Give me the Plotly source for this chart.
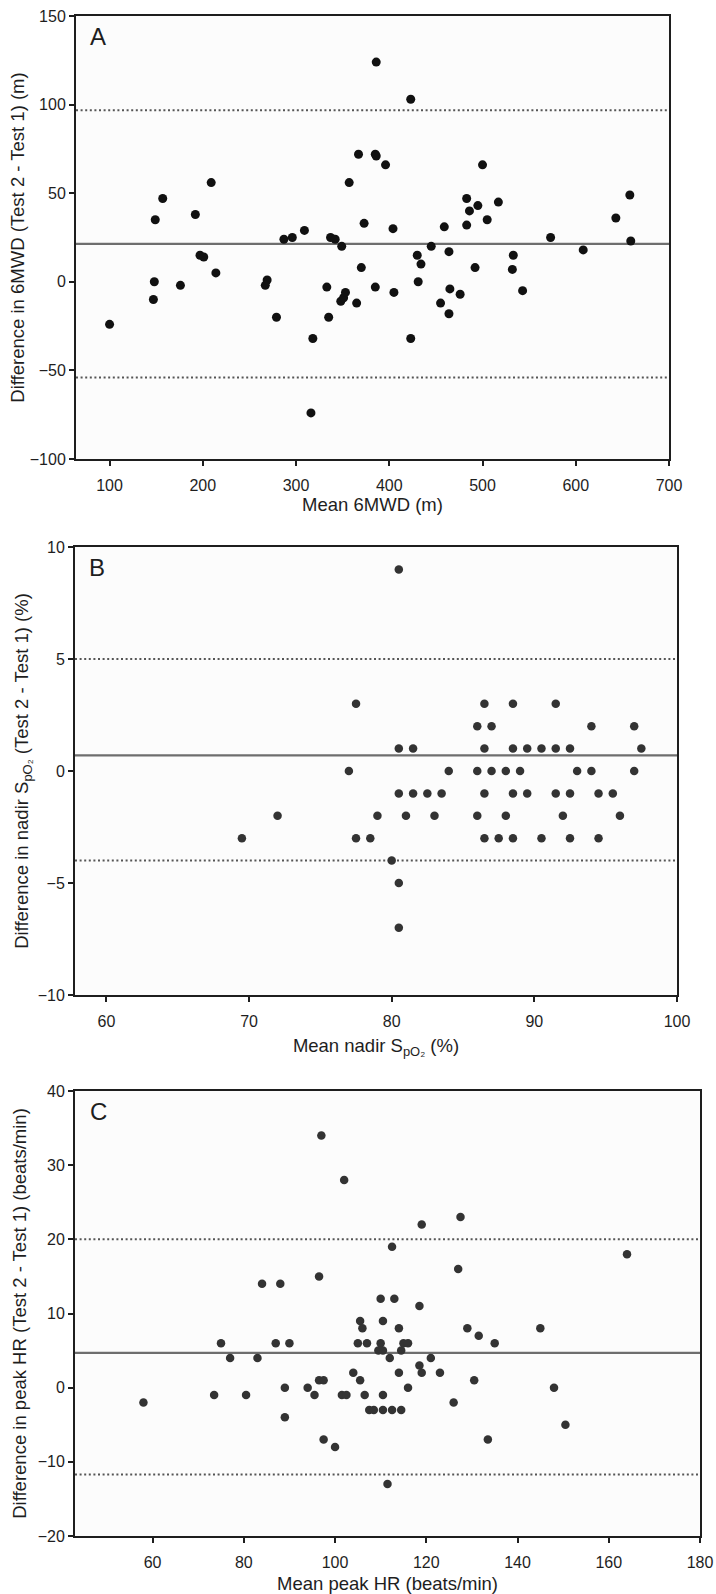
import plotly.graph_objects as go

# ---------------- Panel A: 6MWD ----------------
a_mean = [100, 149, 157, 148, 147, 176, 192, 197, 201, 209, 214, 269, 267, 279, 287, 296, 309, 318, 316,
          333, 335, 337, 342, 349, 348, 351, 353, 357, 365, 367, 373, 370, 385, 386, 386, 385, 396, 423,
          404, 405, 423, 430, 434, 431, 445, 459, 464, 465, 455, 464, 476, 483, 486, 495, 483, 505, 500,
          517, 492, 533, 532, 543, 573, 608, 643, 658, 659]
a_diff = [-24, 35, 47, 0, -10, -2, 38, 15, 14, 56, 5, 1, -2, -20, 24, 25, 29, -32, -74,
          -3, -20, 25, 24, 20, -11, -9, -6, 56, -12, 72, 33, 8, 72, 71, 124, -3, 66, 103,
          30, -6, -32, 15, 10, 0, 20, 31, 17, -4, -12, -18, -7, 47, 40, 43, 32, 35, 66,
          45, 8, 15, 7, -5, 25, 18, 36, 49, 23]
a_bias = 21.4
a_loa = [96.8, -54.0]

# ---------------- Panel B: nadir SpO2 ----------------
b_mean = [69.5, 72, 77, 77.5, 77.5, 78.5, 79, 80, 80.5, 80.5, 81.5, 80.5, 81.5, 82.5, 83.5, 81, 83, 84,
          80.5, 80.5,
          86.5, 88.5, 91.5, 86, 87, 94, 97,
          86.5, 88.5, 89.5, 90.5, 91.5, 92.5, 97.5,
          86, 87, 88, 89, 93, 94, 97,
          86.5, 88.5, 89.5, 91.5, 92.5, 94.5, 95.5,
          86, 88, 92, 96,
          86.5, 87.5, 88.5, 90.5, 92.5, 94.5]
b_diff = [-3, -2, 0, 3, -3, -3, -2, -4, 9, 1, 1, -1, -1, -1, -1, -2, -2, 0,
          -5, -7,
          3, 3, 3, 2, 2, 2, 2,
          1, 1, 1, 1, 1, 1, 1,
          0, 0, 0, 0, 0, 0, 0,
          -1, -1, -1, -1, -1, -1, -1,
          -2, -2, -2, -2,
          -3, -3, -3, -3, -3, -3]
b_bias = 0.7
b_loa = [5.0, -4.0]

# ---------------- Panel C: peak HR ----------------
c_mean = [58, 75, 77, 73.5, 80.5, 83, 84, 88, 87, 90, 89, 89, 94, 95.5, 96.5, 97, 96.5, 97.5, 97.5,
          100, 102, 101.5, 102.5, 104, 105.5, 105.5, 106, 105, 107, 106.5, 107.5, 108.5, 110, 113,
          110.5, 110, 109.5, 110.5, 112, 112.5, 114, 115, 116, 114.5, 114, 116, 110.5, 110.5, 112.5,
          114.5, 118.5, 119, 118.5, 119, 121, 123, 127.5, 127, 129, 131.5, 135, 130.5, 126, 133.5,
          145, 148, 150.5, 164, 111.5]
c_diff = [-2, 6, 4, -1, -1, 4, 14, 14, 6, 6, 0, -4, 0, -1, 15, 34, 1, 1, -7,
          -8, 28, -1, -1, 2, 1, 9, 8, 6, 6, -1, -3, -3, 12, 12,
          9, 6, 5, 5, 4, 19, 8, 6, 6, 5, 2, 0, -1, -3, -3,
          -3, 11, 22, 3, 2, 4, 2, 23, 16, 8, 7, 6, 1, -2, -7,
          8, 0, -5, 18, -13]
c_bias = 4.7
c_loa = [20.0, -11.7]

W, H = 716, 1594
FONT = "Liberation Sans, Arial, sans-serif"
INK = "#1e1e1e"

panels = [
    dict(x=a_mean, y=a_diff, bias=a_bias, loa=a_loa, letter="A", color="#111111", msize=9,
         xr=[64, 700], xt=list(range(100, 701, 100)), yr=[-100, 150], yt=list(range(-100, 151, 50)),
         px=(76, 669), py=(16, 459), xstand=0, ystand=0,
         xtitle="Mean 6MWD (m)", ytitle="Difference in 6MWD (Test 2 - Test 1) (m)"),
    dict(x=b_mean, y=b_diff, bias=b_bias, loa=b_loa, letter="B", color="#333333", msize=8.5,
         xr=[57.8, 100], xt=list(range(60, 101, 10)), yr=[-10, 10], yt=list(range(-10, 11, 5)),
         px=(75, 677), py=(547, 995), xstand=10, ystand=4,
         xtitle="Mean nadir S<sub>pO₂</sub> (%)",
         ytitle="Difference in nadir S<sub>pO₂</sub> (Test 2 - Test 1) (%)"),
    dict(x=c_mean, y=c_diff, bias=c_bias, loa=c_loa, letter="C", color="#333333", msize=8.5,
         xr=[43, 180], xt=list(range(60, 181, 20)), yr=[-20, 40], yt=list(range(-20, 41, 10)),
         px=(75, 700), py=(1091, 1536), xstand=8, ystand=6,
         xtitle="Mean peak HR (beats/min)",
         ytitle="Difference in peak HR (Test 2 - Test 1) (beats/min)"),
]

fig = go.Figure()
layout = dict(width=W, height=H, margin=dict(l=0, r=0, t=0, b=0),
              paper_bgcolor="white", plot_bgcolor="#fcfcfc", showlegend=False,
              font=dict(family=FONT, size=16, color=INK))
shapes = []
annotations = []

for i, p in enumerate(panels):
    n = "" if i == 0 else str(i + 1)
    xa, ya = "x" + n, "y" + n
    fig.add_trace(go.Scatter(x=p["x"], y=p["y"], mode="markers", xaxis=xa, yaxis=ya,
                             marker=dict(size=p["msize"], color=p["color"]), hoverinfo="x+y"))
    axis_common = dict(showline=True, linecolor=INK, linewidth=2, mirror=True,
                       ticks="outside", ticklen=5, tickwidth=1.5, tickcolor=INK,
                       showgrid=False, zeroline=False, automargin=False,
                       tickfont=dict(family=FONT, size=16, color=INK))
    layout["xaxis" + n] = dict(domain=[p["px"][0] / W, p["px"][1] / W], anchor=ya,
                               range=p["xr"], tickvals=p["xt"], ticklabelstandoff=6,
                               title=dict(text=p["xtitle"], font=dict(family=FONT, size=18.5, color=INK),
                                          standoff=p["xstand"]),
                               **axis_common)
    layout["yaxis" + n] = dict(domain=[1 - p["py"][1] / H, 1 - p["py"][0] / H], anchor=xa,
                               range=p["yr"], tickvals=p["yt"],
                               title=dict(text=p["ytitle"], font=dict(family=FONT, size=18.5, color=INK),
                                          standoff=p["ystand"]),
                               **axis_common)
    xref_dom = xa + " domain"
    # bias line
    shapes.append(dict(type="line", xref=xref_dom, yref=ya, x0=0, x1=1, y0=p["bias"], y1=p["bias"],
                       line=dict(color="#6e6e6e", width=2.2), layer="below"))
    for v in p["loa"]:
        shapes.append(dict(type="line", xref=xref_dom, yref=ya, x0=0, x1=1, y0=v, y1=v,
                           line=dict(color="#555555", width=2, dash="2px,2.6px"), layer="below"))
    annotations.append(dict(text=p["letter"], xref=xref_dom, yref=ya + " domain", x=0.02, y=0.988,
                            xanchor="left", yanchor="top", showarrow=False,
                            font=dict(family=FONT, size=24, color=INK)))

layout["shapes"] = shapes
layout["annotations"] = annotations
fig.update_layout(**layout)
fig.write_html("out.html", config={"displayModeBar": False},
               post_script="document.body.style.margin='0';document.body.style.overflow='hidden';")
